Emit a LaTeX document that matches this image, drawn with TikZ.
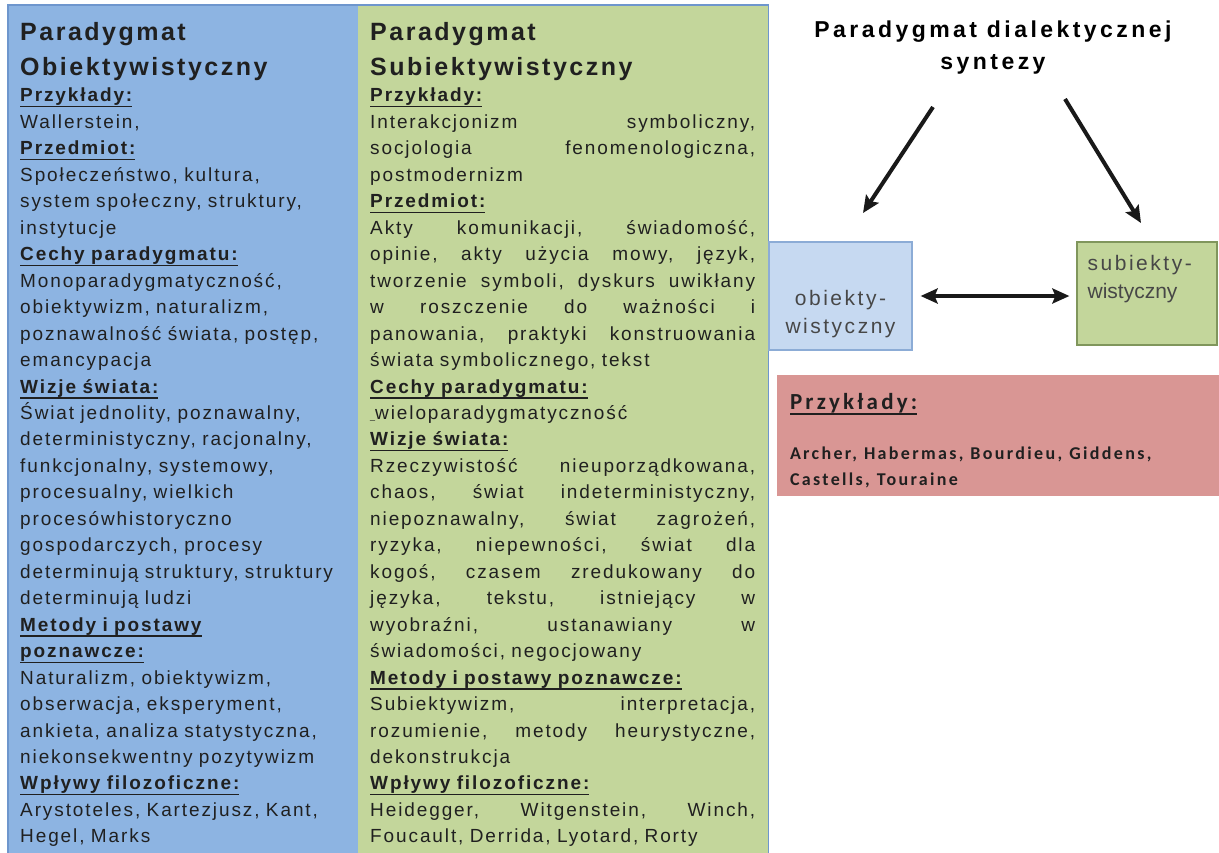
\documentclass[tikz,border=0pt]{standalone}
\usepackage{fontspec}
\setmainfont{Liberation Sans}[LetterSpace=10]
\newfontfamily\exfont{Carlito}[LetterSpace=13]
\usetikzlibrary{arrows.meta, positioning}

\definecolor{objblue}{RGB}{141,180,226}
\definecolor{subgreen}{RGB}{195,214,155}
\definecolor{edgeblue}{RGB}{110,150,205}
\definecolor{boxblue}{RGB}{198,217,241}
\definecolor{boxedge}{RGB}{140,172,214}
\definecolor{greenedge}{RGB}{128,150,92}
\definecolor{expink}{RGB}{217,150,148}
\definecolor{txt}{RGB}{32,32,32}

\newlength{\subw}\setlength{\subw}{385pt}
\newcommand{\hd}[1]{\textbf{\sbox0{#1}\rlap{\rule[-5.5pt]{\wd0}{1.4pt}}\usebox0}}
\newcommand{\jl}[1]{\makebox[\subw][l]{#1}}
\newcommand{\ws}{\hspace{7pt}}

\begin{document}
\begin{tikzpicture}[x=1pt, y=-1pt,
  colbox/.style={
    rectangle, draw=none, anchor=north west,
    minimum height=870pt, inner sep=0pt},
  colhead/.style={
    anchor=north west, inner sep=0pt, align=left, text=txt,
    font=\fontsize{25}{35}\selectfont\bfseries},
  colbody/.style={
    anchor=north west, inner sep=0pt, align=left, text=txt,
    font=\fontsize{19}{26.46}\selectfont},
  pbox/.style={rectangle, line width=1.2pt, inner sep=0pt},
  lbl/.style={
    inner sep=0pt, text=black!72,
    font=\fontsize{21}{28}\selectfont\addfontfeatures{LetterSpace=12}},
  arr/.style={-{Stealth[length=17pt, width=15pt, inset=3pt]}, line width=4pt, black!90},
  darr/.style={{Stealth[length=17pt, width=15pt, inset=3pt]}-{Stealth[length=17pt, width=15pt, inset=3pt]},
    line width=4pt, black!90}
]
\useasboundingbox (0,0) rectangle (1219,852);
% ── Columns ──
\node[colbox, fill=subgreen, minimum width=410pt] (subcol) at (358,5) {};
\node[colbox, fill=objblue, minimum width=350pt] (objcol) at (8,5) {};
\draw[edgeblue, line width=1.2pt] (objcol.north west) rectangle (subcol.south east);
% ── Objectivist paradigm ──
\node[colhead] (objhead) at (20,22) {Paradygmat\\Obiektywistyczny};
\node[colbody, text width=345pt] (objbody) at (20,88) {%
\hd{Przykłady:}\\
Wallerstein,\\
\hd{Przedmiot:}\\
Społeczeństwo, kultura,\\
system społeczny, struktury,\\
instytucje\\
\hd{Cechy paradygmatu:}\\
Monoparadygmatyczność,\\
obiektywizm, naturalizm,\\
poznawalność świata, postęp,\\
emancypacja\\
\hd{Wizje świata:}\\
Świat jednolity, poznawalny,\\
deterministyczny, racjonalny,\\
funkcjonalny, systemowy,\\
procesualny, wielkich\\
procesówhistoryczno\\
gospodarczych, procesy\\
determinują struktury, struktury\\
determinują ludzi\\
\hd{Metody i postawy}\\
\hd{poznawcze:}\\
Naturalizm, obiektywizm,\\
obserwacja, eksperyment,\\
ankieta, analiza statystyczna,\\
niekonsekwentny pozytywizm\\
\hd{Wpływy filozoficzne:}\\
Arystoteles, Kartezjusz, Kant,\\
Hegel, Marks};
% ── Subjectivist paradigm ──
\node[colhead] (subhead) at (370,22) {Paradygmat\\Subiektywistyczny};
\node[colbody, text width=\subw] (subbody) at (370,88) {%
\hd{Przykłady:}\\
\jl{Interakcjonizm\hfill symboliczny,}\\
\jl{socjologia\hfill fenomenologiczna,}\\
postmodernizm\\
\hd{Przedmiot:}\\
\jl{Akty\hfill komunikacji,\hfill świadomość,}\\
\jl{opinie,\hfill akty\hfill użycia\hfill mowy,\hfill język,}\\
\jl{tworzenie\hfill symboli,\hfill dyskurs\hfill uwikłany}\\
\jl{w\hfill roszczenie\hfill do\hfill ważności\hfill i}\\
\jl{panowania,\hfill praktyki\hfill konstruowania}\\
świata symbolicznego, tekst\\
\hd{Cechy paradygmatu:}\\
{\fontsize{9}{9}\selectfont\_}wieloparadygmatyczność\\
\hd{Wizje świata:}\\
\jl{Rzeczywistość\hfill nieuporządkowana,}\\
\jl{chaos,\hfill świat\hfill indeterministyczny,}\\
\jl{niepoznawalny,\hfill świat\hfill zagrożeń,}\\
\jl{ryzyka,\hfill niepewności,\hfill świat\hfill dla}\\
\jl{kogoś,\hfill czasem\hfill zredukowany\hfill do}\\
\jl{języka,\hfill tekstu,\hfill istniejący\hfill w}\\
\jl{wyobraźni,\hfill ustanawiany\hfill w}\\
świadomości, negocjowany\\
\hd{Metody i postawy poznawcze:}\\
\jl{Subiektywizm,\hfill interpretacja,}\\
\jl{rozumienie,\hfill metody\hfill heurystyczne,}\\
dekonstrukcja\\
\hd{Wpływy filozoficzne:}\\
\jl{Heidegger,\hfill Witgenstein,\hfill Winch,}\\
Foucault, Derrida, Lyotard, Rorty};
% ── Dialectical synthesis ──
\node[inner sep=0pt, align=center, text=black,
  font=\fontsize{23}{32}\selectfont\bfseries\addfontfeatures{LetterSpace=15}]
  (synth) at (993,48) {Paradygmat dialektycznej\\syntezy};
\node[pbox, fill=boxblue, draw=boxedge, minimum width=143pt, minimum height=108pt,
  label={[lbl, align=center, yshift=-18.5pt]center:{obiekty-\\wistyczny}}]
  (obox) at (840.5,296) {};
\node[pbox, fill=subgreen, draw=greenedge, minimum width=140pt, minimum height=103pt,
  label={[lbl, align=left, anchor=north west, xshift=11pt, yshift=-14pt]north west:{subiekty-\\{\addfontfeatures{LetterSpace=0}wistyczny}}}]
  (sbox) at (1147,293.5) {};
% ── Examples ──
\node[pbox, fill=expink, minimum width=442pt, minimum height=121pt, text width=416pt,
  align=left, font=\exfont, text=txt] (ex) at (998,435.5) {%
  {\fontsize{23}{28}\selectfont\addfontfeatures{LetterSpace=14}\rule{0pt}{26pt}\hd{Przykłady:}\par}
  \vspace{24pt}
  {\fontsize{18}{26}\selectfont\bfseries Archer,\ws Habermas,\ws Bourdieu,\ws Giddens,\\Castells,\ws Touraine\par}};
% ── Arrows ──
\coordinate (la) at (933,107);
\coordinate (lb) at (863,213);
\coordinate (ra) at (1065,99);
\coordinate (rb) at (1141,223);
\draw[arr] (la) -- (lb);
\draw[arr] (ra) -- (rb);
\draw[darr, shorten <=8pt, shorten >=7pt] (obox.east) -- (obox.east -| sbox.west);
\end{tikzpicture}
\end{document}
